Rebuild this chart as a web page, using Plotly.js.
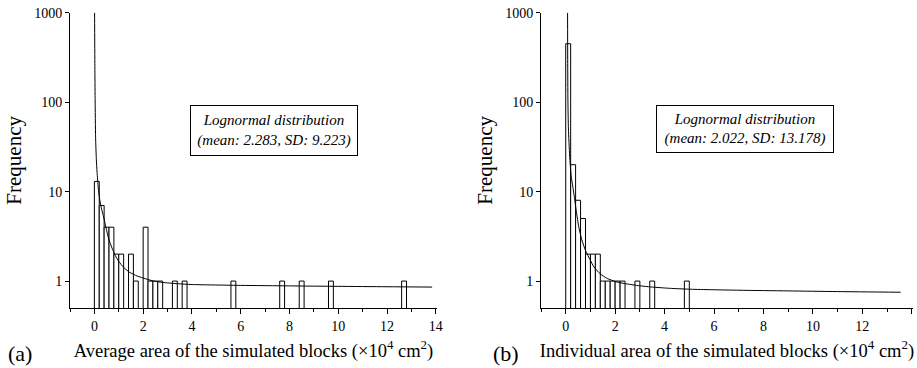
<!DOCTYPE html>
<html>
<head>
<meta charset="utf-8">
<script src="https://cdn.plot.ly/plotly-3.0.1.min.js"></script>
<style>html,body{margin:0;padding:0;background:#fff;}#chart{width:917px;height:368px;}</style>
</head>
<body>
<div id="chart"></div>
<script>
// ---- data ----
const binWidth = 0.2;
const leftBinStart = [0, 0.2, 0.4, 0.6, 0.8, 1.0, 1.4, 1.6, 2.0, 2.2, 2.4, 2.6, 3.2, 3.6, 5.6, 7.6, 8.4, 9.6, 12.6];
const leftCounts   = [13, 7, 4, 4, 2, 2, 2, 1, 4, 1, 1, 1, 1, 1, 1, 1, 1, 1, 1];
const rightBinStart = [0, 0.2, 0.4, 0.6, 0.8, 1.0, 1.2, 1.4, 1.6, 1.8, 2.0, 2.2, 2.8, 3.4, 4.8];
const rightCounts   = [450, 20, 8, 5, 2, 2, 2, 1, 1, 1, 1, 1, 1, 1, 1];

const leftFitX = [0.008, 0.02, 0.03, 0.05, 0.08, 0.11, 0.16, 0.22, 0.3, 0.38, 0.48, 0.59, 0.72, 0.86, 1.0, 1.2, 1.45, 1.75, 2.1, 2.44, 2.8, 3.4, 4.0, 6.0, 8.0, 10.0, 12.0, 13.85];
const leftFitY = [1000, 250, 110, 40, 23, 16.5, 11, 8.1, 6.3, 5.2, 3.9, 2.95, 2.35, 1.92, 1.66, 1.42, 1.25, 1.14, 1.06, 1.0, 0.965, 0.935, 0.915, 0.895, 0.883, 0.873, 0.864, 0.857];
const rightFitX = [0.075, 0.08, 0.09, 0.11, 0.16, 0.22, 0.33, 0.43, 0.53, 0.65, 0.8, 1.0, 1.14, 1.4, 1.68, 2.0, 2.36, 3.0, 3.44, 4.2, 5.07, 7.0, 9.0, 11.0, 13.55];
const rightFitY = [1000, 300, 100, 50, 25, 15, 9.5, 6.0, 4.0, 2.9, 2.2, 1.7, 1.44, 1.2, 1.07, 0.99, 0.94, 0.885, 0.86, 0.83, 0.81, 0.79, 0.776, 0.763, 0.75];

const xTickVals = [0, 2, 4, 6, 8, 10, 12, 14];
const yTickVals = [1, 10, 100, 1000];
const yTickText = ['1', '10', '100', '1000'];

const leftTitle = 'Average area of the simulated blocks (×10<sup>4</sup> cm<sup>2</sup>)';
const rightTitle = 'Individual area of the simulated blocks (×10<sup>4</sup> cm<sup>2</sup>)';
const leftNote = '<i>Lognormal distribution</i><br><i>(mean: 2.283, SD: 9.223)</i>';
const rightNote = '<i>Lognormal distribution</i><br><i>(mean: 2.022, SD: 13.178)</i>';

// ---- figure ----
const FONT = '"Liberation Serif", "Times New Roman", serif';
const barStyle = {color: '#ffffff', line: {color: '#000000', width: 1}};

// minor log tick positions (axis decoration only)
const minorLogTicks = [];
[0.1, 1, 10, 100].forEach(function (d) {
  for (let k = 2; k <= 9; k++) { const v = d * k; if (v >= 0.5 && v < 1000) minorLogTicks.push(v); }
});

const traces = [
  {type: 'bar', x: leftBinStart, y: leftCounts, width: binWidth, offset: 0, marker: barStyle, xaxis: 'x', yaxis: 'y', showlegend: false},
  {type: 'scatter', mode: 'lines', x: leftFitX, y: leftFitY, line: {color: '#000', width: 1, shape: 'spline', smoothing: 0.6}, xaxis: 'x', yaxis: 'y', showlegend: false},
  {type: 'bar', x: rightBinStart, y: rightCounts, width: binWidth, offset: 0, marker: barStyle, xaxis: 'x2', yaxis: 'y2', showlegend: false},
  {type: 'scatter', mode: 'lines', x: rightFitX, y: rightFitY, line: {color: '#000', width: 1, shape: 'spline', smoothing: 0.6}, xaxis: 'x2', yaxis: 'y2', showlegend: false}
];

function xAxis(domain, title, anchor) {
  return {
    domain: domain, anchor: anchor, range: [-1, 14.05],
    tickmode: 'array', tickvals: xTickVals,
    ticks: 'outside', ticklen: 5, tickwidth: 1, tickcolor: '#000',
    minor: {dtick: 1, tick0: 1, ticks: 'outside', ticklen: 3, tickwidth: 1, tickcolor: '#000', showgrid: false},
    showline: true, linecolor: '#000', linewidth: 1, mirror: false,
    showgrid: false, zeroline: false,
    tickfont: {family: FONT, size: 14, color: '#000'},
    title: {text: title, font: {family: FONT, size: 18.5, color: '#000'}, standoff: 11},
    automargin: false
  };
}
function yAxis(domain, anchor) {
  return {
    domain: domain, anchor: anchor, type: 'log', range: [Math.log10(0.5), 3],
    tickmode: 'array', tickvals: yTickVals, ticktext: yTickText,
    ticks: 'outside', ticklen: 4, tickwidth: 1, tickcolor: '#000',
    showline: true, linecolor: '#000', linewidth: 1, mirror: false,
    showgrid: false, zeroline: false,
    tickfont: {family: FONT, size: 14, color: '#000'},
    title: {text: 'Frequency', font: {family: FONT, size: 21, color: '#000'}, standoff: 6},
    automargin: false
  };
}
function yMinor(domain, anchor, overlay) {
  return {
    domain: domain, anchor: anchor, overlaying: overlay, type: 'log', range: [Math.log10(0.5), 3],
    tickmode: 'array', tickvals: minorLogTicks, showticklabels: false,
    ticks: 'outside', ticklen: 2, tickwidth: 1, tickcolor: '#000',
    showline: false, showgrid: false, zeroline: false, automargin: false
  };
}

const yDom = [1 - 308 / 368, 1 - 12.7 / 368];
const layout = {
  width: 917, height: 368,
  margin: {l: 0, r: 0, t: 0, b: 0},
  paper_bgcolor: '#fff', plot_bgcolor: '#fff',
  font: {family: FONT, color: '#000'},
  bargap: 0,
  showlegend: false,
  xaxis: xAxis([70 / 917, 437 / 917], leftTitle, 'y'),
  yaxis: yAxis(yDom, 'x'),
  xaxis2: xAxis([541 / 917, 913 / 917], rightTitle, 'y2'),
  yaxis2: yAxis(yDom, 'x2'),
  yaxis3: yMinor(yDom, 'x', 'y'),
  yaxis4: yMinor(yDom, 'x2', 'y2'),
  annotations: [
    {xref: 'x domain', yref: 'y domain', x: 0.555, y: 0.60, xanchor: 'center', yanchor: 'middle',
     text: leftNote, showarrow: false, align: 'center', font: {family: FONT, size: 15, color: '#000'},
     bordercolor: '#000', borderwidth: 1, borderpad: 4, bgcolor: '#fff', width: 158, height: 41},
    {xref: 'x2 domain', yref: 'y2 domain', x: 0.548, y: 0.605, xanchor: 'center', yanchor: 'middle',
     text: rightNote, showarrow: false, align: 'center', font: {family: FONT, size: 15, color: '#000'},
     bordercolor: '#000', borderwidth: 1, borderpad: 4, bgcolor: '#fff', width: 168, height: 38},
    {xref: 'paper', yref: 'paper', x: 20 / 917, y: 1 - 353 / 368, xanchor: 'center', yanchor: 'middle',
     text: '(a)', showarrow: false, font: {family: FONT, size: 22, color: '#000'}},
    {xref: 'paper', yref: 'paper', x: 506 / 917, y: 1 - 353 / 368, xanchor: 'center', yanchor: 'middle',
     text: '(b)', showarrow: false, font: {family: FONT, size: 22, color: '#000'}}
  ]
};

Plotly.newPlot('chart', traces, layout, {displayModeBar: false, staticPlot: true});
</script>
</body>
</html>
